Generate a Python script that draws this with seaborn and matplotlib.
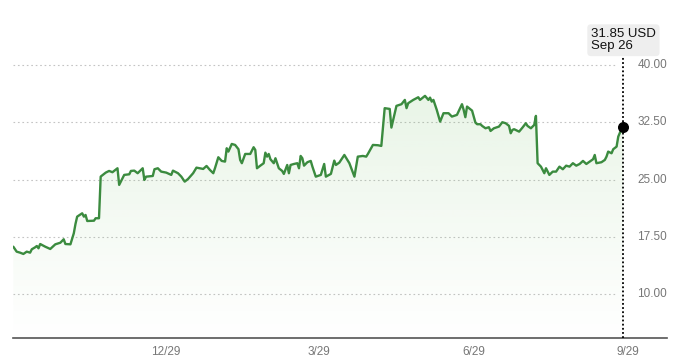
import matplotlib
matplotlib.use("Agg")
import matplotlib.pyplot as plt
import matplotlib.dates as mdates
import matplotlib.colors as mcolors
import seaborn as sns
import numpy as np
import pandas as pd

# daily closes
dates = [
    "2023-09-29", "2023-10-01", "2023-10-03", "2023-10-05", "2023-10-07", "2023-10-09",
    "2023-10-10", "2023-10-12", "2023-10-13", "2023-10-14", "2023-10-15", "2023-10-18",
    "2023-10-21", "2023-10-24", "2023-10-27", "2023-10-29", "2023-10-30", "2023-11-02",
    "2023-11-04", "2023-11-05", "2023-11-06", "2023-11-09", "2023-11-10", "2023-11-11",
    "2023-11-12", "2023-11-16", "2023-11-17", "2023-11-19", "2023-11-20", "2023-11-23",
    "2023-11-25", "2023-11-27", "2023-11-30", "2023-12-01", "2023-12-04", "2023-12-07",
    "2023-12-08", "2023-12-10", "2023-12-12", "2023-12-15", "2023-12-16", "2023-12-17",
    "2023-12-21", "2023-12-22", "2023-12-24", "2023-12-26", "2023-12-29", "2024-01-01",
    "2024-01-02", "2024-01-05", "2024-01-07", "2024-01-09", "2024-01-11", "2024-01-14",
    "2024-01-16", "2024-01-18", "2024-01-20", "2024-01-22", "2024-01-24", "2024-01-26",
    "2024-01-27", "2024-01-29", "2024-01-31", "2024-02-02", "2024-02-03", "2024-02-04",
    "2024-02-06", "2024-02-08", "2024-02-10", "2024-02-11", "2024-02-12", "2024-02-14",
    "2024-02-17", "2024-02-19", "2024-02-20", "2024-02-21", "2024-02-23", "2024-02-25",
    "2024-02-26", "2024-02-27", "2024-02-28", "2024-02-29", "2024-03-02", "2024-03-03",
    "2024-03-05", "2024-03-07", "2024-03-08", "2024-03-10", "2024-03-11", "2024-03-12",
    "2024-03-14", "2024-03-16", "2024-03-17", "2024-03-18", "2024-03-19", "2024-03-20",
    "2024-03-22", "2024-03-24", "2024-03-25", "2024-03-27", "2024-03-30", "2024-04-01",
    "2024-04-02", "2024-04-05", "2024-04-07", "2024-04-08", "2024-04-10", "2024-04-13",
    "2024-04-16", "2024-04-19", "2024-04-21", "2024-04-24", "2024-04-26", "2024-04-27",
    "2024-04-30", "2024-05-03", "2024-05-05", "2024-05-07", "2024-05-10", "2024-05-11",
    "2024-05-14", "2024-05-17", "2024-05-19", "2024-05-20", "2024-05-21", "2024-05-24",
    "2024-05-27", "2024-05-28", "2024-05-31", "2024-06-02", "2024-06-03", "2024-06-04",
    "2024-06-05", "2024-06-07", "2024-06-09", "2024-06-11", "2024-06-14", "2024-06-16",
    "2024-06-19", "2024-06-22", "2024-06-23", "2024-06-24", "2024-06-25", "2024-06-28",
    "2024-06-30", "2024-07-01", "2024-07-03", "2024-07-04", "2024-07-06", "2024-07-08",
    "2024-07-09", "2024-07-11", "2024-07-14", "2024-07-16", "2024-07-18", "2024-07-20",
    "2024-07-21", "2024-07-22", "2024-07-23", "2024-07-26", "2024-07-28", "2024-07-30",
    "2024-07-31", "2024-08-02", "2024-08-04", "2024-08-05", "2024-08-06", "2024-08-08",
    "2024-08-10", "2024-08-11", "2024-08-13", "2024-08-15", "2024-08-17", "2024-08-19",
    "2024-08-21", "2024-08-23", "2024-08-25", "2024-08-27", "2024-08-29", "2024-08-31",
    "2024-09-02", "2024-09-04", "2024-09-06", "2024-09-08", "2024-09-09", "2024-09-10",
    "2024-09-13", "2024-09-15", "2024-09-16", "2024-09-17", "2024-09-19", "2024-09-20",
    "2024-09-22", "2024-09-23", "2024-09-24", "2024-09-26",
]
prices = [
    16.23, 15.58, 15.45, 15.28, 15.58, 15.45,
    15.89, 16.15, 16.32, 16.02, 16.58, 16.23,
    15.93, 16.54, 16.75, 17.20, 16.58, 16.54,
    17.98, 19.20, 20.16, 20.60, 20.16, 20.38,
    19.59, 19.63, 19.95, 19.95, 25.40, 25.92,
    26.14, 25.97, 26.49, 24.31, 25.62, 25.70,
    26.14, 26.18, 25.84, 26.49, 24.96, 25.39,
    25.48, 26.36, 26.49, 26.05, 25.92, 25.62,
    26.18, 25.84, 25.39, 24.74, 25.09, 25.84,
    26.57, 26.49, 26.40, 26.79, 26.27, 25.84,
    26.49, 27.93, 27.45, 27.36, 29.11, 28.67,
    29.67, 29.54, 28.98, 27.58, 27.15, 28.36,
    28.36, 29.24, 28.89, 26.49, 26.83, 27.15,
    28.53, 28.01, 28.36, 27.67, 27.15, 27.80,
    26.49, 26.14, 25.75, 26.92, 25.84, 26.92,
    27.05, 27.15, 26.49, 28.10, 27.80, 26.83,
    27.28, 27.45, 26.70, 25.39, 25.62, 27.05,
    25.39, 25.75, 27.49, 26.92, 27.23, 28.23,
    27.15, 25.39, 28.01, 28.10, 28.01, 28.36,
    29.54, 29.50, 29.41, 34.35, 34.25, 31.81,
    34.65, 34.87, 35.43, 34.35, 35.00, 35.43,
    35.78, 35.43, 35.96, 35.43, 35.73, 35.21,
    35.43, 34.12, 32.59, 33.69, 33.69, 33.25,
    33.47, 34.87, 34.12, 33.17, 34.56, 34.03,
    32.46, 32.25, 32.25, 32.03, 31.72, 31.86,
    31.37, 31.72, 31.94, 32.51, 32.38, 32.03,
    31.07, 31.50, 31.60, 31.28, 31.81, 32.38,
    32.03, 31.72, 32.16, 33.34, 27.15, 26.70,
    25.84, 26.49, 25.62, 26.05, 26.05, 26.70,
    26.36, 26.83, 26.70, 27.15, 26.83, 27.05,
    27.45, 27.05, 27.36, 27.67, 28.23, 27.15,
    27.28, 27.58, 28.01, 28.67, 28.45, 28.98,
    29.32, 30.63, 31.15, 31.85,
]
y_ticks = [10.00, 17.50, 25.00, 32.50, 40.00]
x_ticks = ["2023-12-29", "2024-03-29", "2024-06-29", "2024-09-29"]
currency = "USD"

df = pd.DataFrame({"date": pd.to_datetime(dates), "price": prices})

sns.set_style("white")
plt.rcParams["font.family"] = ["Liberation Sans", "DejaVu Sans"]

W, H = 680, 364
fig = plt.figure(figsize=(W / 100, H / 100), dpi=100)
ax = fig.add_axes([13.3 / W, 26.5 / H, (667 - 13.3) / W, 337.5 / H])

line_color = "#3b8b3f"
sns.lineplot(data=df, x="date", y="price", ax=ax, color=line_color,
             linewidth=1.7, zorder=3)

x_lo, x_hi = df["date"].iloc[0], pd.Timestamp("2024-10-22")
y_lo, y_hi = 4.35, 48.5

# soft green gradient under the line
fill = ax.fill_between(df["date"], df["price"], y_lo, color="none", lw=0)
grad = np.zeros((256, 1, 4))
grad[..., :3] = mcolors.to_rgb("#6dbb5e")
grad[:, 0, 3] = np.linspace(0.0, 0.15, 256)
img = ax.imshow(grad, origin="lower", aspect="auto", zorder=1,
                extent=[mdates.date2num(x_lo), mdates.date2num(df["date"].iloc[-1]),
                        y_lo, df["price"].max()])
img.set_clip_path(fill.get_paths()[0], transform=ax.transData)

ax.set_xlim(x_lo, x_hi)
ax.set_ylim(y_lo, y_hi)

# dotted gridlines with labels sitting inside the plot on the right
for v in y_ticks:
    ax.axhline(v, xmin=0, xmax=0.923, color="#c4c4c4", lw=0.8,
               ls=(0, (1.5, 2.5)), zorder=0)
    ax.text(1.0, v, f"{v:.2f}", transform=ax.get_yaxis_transform(),
            ha="right", va="center", color="#777777", fontsize=8.5)
ax.set_yticks([])
ax.set_ylabel("")
ax.set_xlabel("")

xt = pd.to_datetime(x_ticks)
ax.set_xticks(xt)
ax.set_xticklabels([f"{d.month}/{d.day}" for d in xt])
ax.tick_params(axis="x", length=4, width=1, color="#555555",
               labelcolor="#777777", labelsize=8.5, pad=2)

for s in ["top", "left", "right"]:
    ax.spines[s].set_visible(False)
ax.spines["bottom"].set_color("#555555")
ax.spines["bottom"].set_linewidth(1.2)

# hover marker for the latest close
last_date = df["date"].iloc[-1]
last_price = df["price"].iloc[-1]
ax.axvline(last_date, ymin=0, ymax=0.83, color="black", lw=1.3,
           ls=(0, (1, 1.3)), zorder=4)
ax.scatter([last_date], [last_price], s=48, color="black", zorder=5)

fig.text(591 / W, 1 - 28 / H, f"{last_price:.2f} {currency}\n{last_date:%b} {last_date.day}",
         ha="left", va="top", fontsize=9.5, color="#111111", linespacing=1.05,
         bbox=dict(boxstyle="round,pad=0.28", fc="#eeeeee", ec="none"))

fig.savefig("out.png", dpi=100)
